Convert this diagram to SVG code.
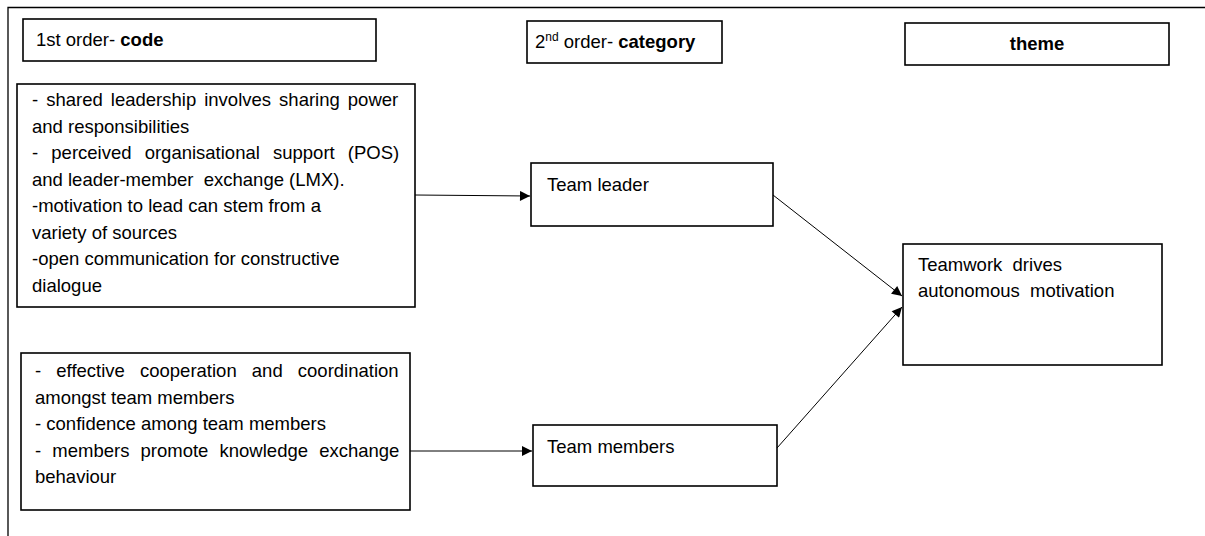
<svg xmlns="http://www.w3.org/2000/svg" width="1205" height="536" viewBox="0 0 1205 536">
  <style>
    .box { fill: #ffffff; stroke: #000000; stroke-width: 1.6; }
    .frame { fill: none; stroke: #000000; stroke-width: 1.3; }
    .t { font-family: "Liberation Sans", Arial, sans-serif; font-size: 18.5px; fill: #000000; }
    .b { font-weight: bold; }
    .sup { font-size: 12px; }
    .conn { fill: none; stroke: #000000; stroke-width: 1; }
  </style>
  <defs>
    <marker id="arrow" viewBox="0 0 10 10" refX="10" refY="5" markerWidth="12" markerHeight="10" markerUnits="userSpaceOnUse" orient="auto">
      <path d="M0,0 L10,5 L0,10 Z" fill="#000000"/>
    </marker>
  </defs>

  <rect width="1205" height="536" fill="#ffffff"/>

  <!-- page frame -->
  <path class="frame" d="M8,536 V7.5 H1205"/>

  <!-- column headings -->
  <g id="head-code">
    <rect class="box" x="23" y="19" width="353" height="42"/>
    <text class="t" x="36" y="46">1st order- <tspan class="b">code</tspan></text>
  </g>
  <g id="head-category">
    <rect class="box" x="527" y="21" width="195" height="42"/>
    <text class="t" x="535" y="48">2<tspan class="sup" dy="-7">nd</tspan><tspan dy="7"> order- </tspan><tspan class="b">category</tspan></text>
  </g>
  <g id="head-theme">
    <rect class="box" x="905" y="23" width="264" height="42"/>
    <text class="t b" x="1037" y="50" text-anchor="middle">theme</text>
  </g>

  <!-- first-order codes -->
  <g id="codes-leader">
    <rect class="box" x="17" y="84" width="398" height="223"/>
    <text class="t">
      <tspan x="32" y="106" word-spacing="2.9">- shared leadership involves sharing power</tspan>
      <tspan x="32" y="132.5">and responsibilities</tspan>
      <tspan x="32" y="159" word-spacing="8">- perceived organisational support (POS)</tspan>
      <tspan x="32" y="185.5" xml:space="preserve">and leader-member  exchange (LMX).</tspan>
      <tspan x="32" y="212">-motivation to lead can stem from a</tspan>
      <tspan x="32" y="238.5">variety of sources</tspan>
      <tspan x="32" y="265">-open communication for constructive</tspan>
      <tspan x="32" y="291.5">dialogue</tspan>
    </text>
  </g>
  <g id="codes-members">
    <rect class="box" x="21" y="353" width="389" height="157"/>
    <text class="t">
      <tspan x="35" y="377" word-spacing="10">- effective cooperation and coordination</tspan>
      <tspan x="35" y="403.5">amongst team members</tspan>
      <tspan x="35" y="430">- confidence among team members</tspan>
      <tspan x="35" y="456.5" word-spacing="6">- members promote knowledge exchange</tspan>
      <tspan x="35" y="483">behaviour</tspan>
    </text>
  </g>

  <!-- second-order categories -->
  <g id="cat-leader">
    <rect class="box" x="531" y="163" width="242" height="63"/>
    <text class="t" x="547" y="191">Team leader</text>
  </g>
  <g id="cat-members">
    <rect class="box" x="533" y="425" width="244" height="61"/>
    <text class="t" x="547" y="453">Team members</text>
  </g>

  <!-- theme -->
  <g id="theme">
    <rect class="box" x="903" y="244" width="259" height="121"/>
    <text class="t">
      <tspan x="918" y="271" xml:space="preserve">Teamwork  drives</tspan>
      <tspan x="918" y="297" xml:space="preserve">autonomous  motivation</tspan>
    </text>
  </g>

  <!-- connectors -->
  <g id="connectors">
    <line class="conn" x1="415" y1="195" x2="530" y2="196" marker-end="url(#arrow)"/>
    <line class="conn" x1="410" y1="451" x2="532" y2="451" marker-end="url(#arrow)"/>
    <line class="conn" x1="773" y1="195" x2="902" y2="296" marker-end="url(#arrow)"/>
    <line class="conn" x1="777" y1="448" x2="902" y2="307" marker-end="url(#arrow)"/>
  </g>
</svg>
